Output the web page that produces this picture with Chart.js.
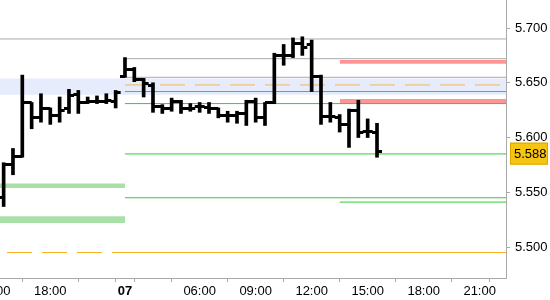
<!DOCTYPE html>
<html>
<head>
<meta charset="utf-8">
<script src="https://cdn.jsdelivr.net/npm/chart.js@4"></script>
<style>
  html, body { margin: 0; padding: 0; background: #fff; }
  #wrap { width: 550px; height: 300px; }
</style>
</head>
<body>
<div id="wrap"><canvas id="myChart"></canvas></div>
<script>
// 30 minute bars, x = session hours (07 opens at 2)
const hours = [-4.5, -4, -3.5, -3, -2.5, -2, -1.5, -1, -0.5, 0, 0.5, 1, 1.5,
  2, 2.5, 3, 3.5, 4, 4.5, 5, 5.5, 6, 6.5, 7, 7.5, 8, 8.5, 9, 9.5,
  10, 10.5, 11, 11.5, 12, 12.5, 13, 13.5, 14, 14.5, 15, 15.5];
const open = [5.546, 5.576, 5.583, 5.632, 5.619, 5.627, 5.621, 5.627, 5.640, 5.632, 5.633, 5.633, 5.633,
  5.656, 5.663, 5.653, 5.648, 5.629, 5.627, 5.633, 5.627, 5.629, 5.628, 5.627, 5.621, 5.621, 5.622, 5.633, 5.619,
  5.632, 5.675, 5.675, 5.686, 5.685, 5.656, 5.620, 5.619, 5.612, 5.625, 5.606, 5.605];
const high = [5.577, 5.590, 5.657, 5.632, 5.640, 5.627, 5.637, 5.644, 5.643, 5.637, 5.638, 5.640, 5.643,
  5.673, 5.664, 5.654, 5.650, 5.630, 5.636, 5.634, 5.631, 5.632, 5.632, 5.627, 5.624, 5.624, 5.634, 5.636, 5.632,
  5.677, 5.685, 5.691, 5.692, 5.689, 5.657, 5.632, 5.621, 5.626, 5.634, 5.617, 5.613];
const low = [5.537, 5.566, 5.582, 5.608, 5.614, 5.612, 5.614, 5.622, 5.622, 5.631, 5.631, 5.631, 5.627,
  5.655, 5.651, 5.637, 5.623, 5.622, 5.624, 5.622, 5.624, 5.623, 5.622, 5.618, 5.614, 5.613, 5.611, 5.614, 5.611,
  5.631, 5.666, 5.673, 5.675, 5.642, 5.612, 5.614, 5.605, 5.591, 5.600, 5.600, 5.582];
const close = [5.576, 5.583, 5.632, 5.619, 5.627, 5.621, 5.625, 5.639, 5.632, 5.633, 5.633, 5.634, 5.642,
  5.663, 5.653, 5.650, 5.629, 5.627, 5.633, 5.627, 5.627, 5.629, 5.627, 5.621, 5.621, 5.622, 5.633, 5.619, 5.632,
  5.675, 5.675, 5.686, 5.683, 5.656, 5.620, 5.620, 5.612, 5.625, 5.605, 5.606, 5.588];

const X_MIN = -4.695, X_MAX = 22.41;
const Y_MIN = 5.4717, Y_MAX = 5.7256;
const DAY_START = 2, ZONE_START = 13.5;

const xTicks = [-5, -2, 1, 2, 3, 6, 9, 12, 15, 18, 21, 22];
const xLabels = ['15:00', '18:00', '', '07', '', '06:00', '09:00', '12:00', '15:00', '18:00', '21:00', ''];
const yTicks = [5.500, 5.550, 5.600, 5.650, 5.700];

const grayFull = [5.690];
const grayDay = [5.672, 5.655];
const greenDay = [5.642, 5.631, 5.585, 5.545];
const greenLate = [5.541];
const blueZone = [5.639, 5.654];
const redZones = [[5.6674, 5.6708], [5.6309, 5.6352]];
const greenZones = [[5.554, 5.558], [5.522, 5.528]];
const orangeDash = 5.648;
const orangeLow = 5.495;
const orangeLowStart = -4.32, orangeLowSolid = 1.3;

function hline (y, from, to, color, dash) {
  return {
    type: 'line', order: 2,
    data: [{ x: from, y: y }, { x: to, y: y }],
    borderColor: color, borderWidth: 1, borderDash: dash || [],
    pointRadius: 0, fill: false,
  };
}

function zone (lo, hi, from, to, color) {
  return [
    { type: 'line', order: 5, data: [{ x: from, y: lo }, { x: to, y: lo }],
      borderColor: 'transparent', borderWidth: 0, pointRadius: 0, fill: false },
    { type: 'line', order: 5, data: [{ x: from, y: hi }, { x: to, y: hi }],
      borderColor: 'transparent', borderWidth: 0, pointRadius: 0, fill: '-1', backgroundColor: color },
  ];
}

let datasets = [{
  type: 'bar', order: 0,
  data: hours.map((h, i) => ({ x: h, y: [low[i], high[i]] })),
  backgroundColor: '#000', borderWidth: 0, barThickness: 3,
}];

datasets = datasets.concat(zone(blueZone[0], blueZone[1], X_MIN, X_MAX, '#e6ecfc'));
redZones.forEach(z => { datasets = datasets.concat(zone(z[0], z[1], ZONE_START, X_MAX, '#ff9494')); });
greenZones.forEach(z => { datasets = datasets.concat(zone(z[0], z[1], X_MIN, DAY_START, '#a8e0a8')); });

grayFull.forEach(v => datasets.push(hline(v, X_MIN, X_MAX, '#aaaaaa')));
grayDay.forEach(v => datasets.push(hline(v, DAY_START, X_MAX, '#aaaaaa')));
greenDay.forEach(v => datasets.push(hline(v, DAY_START, X_MAX, '#33cc33')));
greenLate.forEach(v => datasets.push(hline(v, ZONE_START, X_MAX, '#33cc33')));
datasets.push(hline(orangeDash, DAY_START, X_MAX, '#f5b84a', [25, 10]));
datasets.push(hline(orangeLow, orangeLowStart, orangeLowSolid, '#fbb020', [25, 10]));
datasets.push(hline(orangeLow, orangeLowSolid, X_MAX, '#fbb020'));

// open / close ticks on the OHLC bars
const ohlcTicks = {
  id: 'ohlcTicks',
  afterDatasetsDraw (chart) {
    const { ctx, chartArea, scales: { x, y } } = chart;
    ctx.save();
    ctx.beginPath();
    ctx.rect(chartArea.left, chartArea.top, chartArea.width, chartArea.height);
    ctx.clip();
    ctx.strokeStyle = '#000';
    ctx.lineWidth = 3;
    hours.forEach((h, i) => {
      const px = x.getPixelForValue(h);
      const yo = Math.round(y.getPixelForValue(open[i])) + 0.5;
      const yc = Math.round(y.getPixelForValue(close[i])) + 0.5;
      ctx.beginPath();
      ctx.moveTo(px - 5, yo); ctx.lineTo(px, yo);
      ctx.moveTo(px, yc); ctx.lineTo(px + 5, yc);
      ctx.stroke();
    });
    ctx.restore();
  }
};

// last price box on the price axis
const lastPrice = {
  id: 'lastPrice',
  afterDraw (chart) {
    const { ctx, chartArea, scales: { y } } = chart;
    const last = close[close.length - 1];
    const py = y.getPixelForValue(last) + 3;
    ctx.save();
    ctx.fillStyle = '#f6c412';
    ctx.fillRect(chartArea.right + 4, py - 11, 38, 22);
    ctx.strokeStyle = '#d9a800';
    ctx.lineWidth = 1;
    ctx.strokeRect(chartArea.right + 4.5, py - 10.5, 37, 21);
    ctx.fillStyle = '#000';
    ctx.font = '13px "Liberation Sans"';
    ctx.textBaseline = 'middle';
    ctx.textAlign = 'left';
    ctx.fillText(last.toFixed(3), chartArea.right + 8, py + 1);
    ctx.restore();
  }
};

const ctx = document.getElementById('myChart').getContext('2d');
const myChart = new Chart(ctx, {
  type: 'bar',
  data: { datasets: datasets },
  plugins: [ohlcTicks, lastPrice],
  options: {
    responsive: true,
    maintainAspectRatio: false,
    animation: false,
    layout: { padding: 0 },
    plugins: { legend: { display: false }, tooltip: { enabled: false } },
    scales: {
      x: {
        type: 'linear', min: X_MIN, max: X_MAX, offset: false,
        afterBuildTicks: s => { s.ticks = xTicks.map(v => ({ value: v })); },
        afterFit: s => { s.height = 22; s.paddingLeft = 0; s.paddingRight = 0; },
        border: { color: '#aaaaaa' },
        grid: { drawOnChartArea: false, tickLength: 4, color: '#aaaaaa' },
        ticks: {
          autoSkip: false, maxRotation: 0, padding: 2, color: '#000',
          font: c => ({ family: 'Liberation Sans', size: 13, weight: c.tick && c.tick.value === DAY_START ? 'bold' : 'normal' }),
          callback: (v, i) => xLabels[i],
        },
      },
      y: {
        position: 'right', min: Y_MIN, max: Y_MAX,
        afterBuildTicks: s => { s.ticks = yTicks.map(v => ({ value: v })); },
        afterFit: s => { s.width = 44; s.paddingTop = 0; s.paddingBottom = 0; },
        border: { color: '#aaaaaa' },
        grid: { drawOnChartArea: false, tickLength: 4, color: '#aaaaaa' },
        ticks: {
          padding: 5, color: '#000',
          font: { family: 'Liberation Sans', size: 13 },
          callback: v => Number(v).toFixed(3),
        },
      },
    },
  },
});
</script>
</body>
</html>
